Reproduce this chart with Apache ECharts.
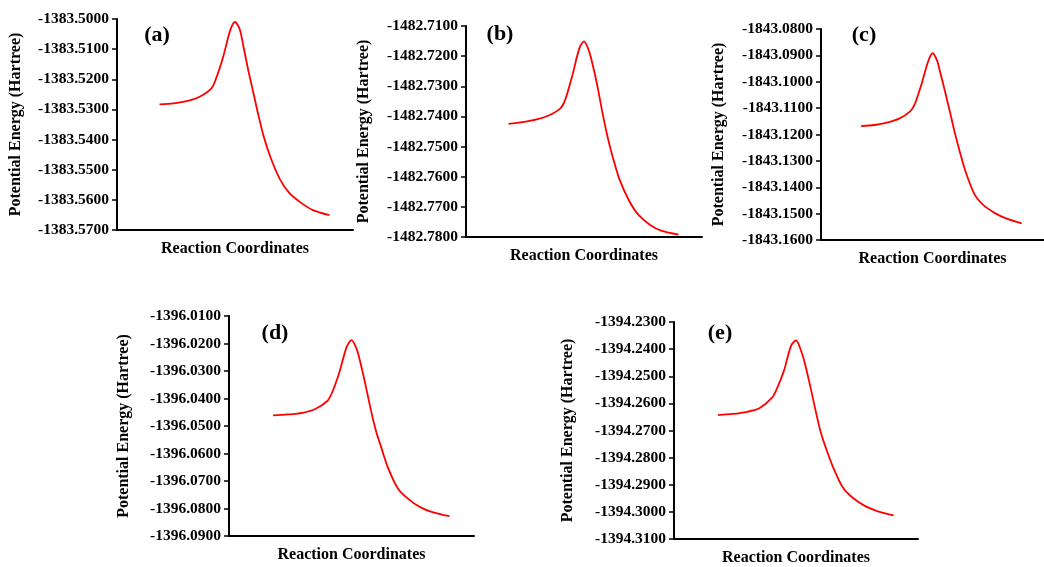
<!DOCTYPE html>
<html>
<head>
<meta charset="utf-8">
<script src="https://cdn.jsdelivr.net/npm/echarts@6/dist/echarts.min.js"></script>
<style>
html,body{margin:0;padding:0;background:#fff;}
#chart{width:1044px;height:567px;}
</style>
</head>
<body>
<div id="chart"></div>
<script>
// Reaction coordinate (arbitrary step units) shared by all panels
const reactionCoord = [0, 3, 6, 8.5, 11, 12, 13.5, 15, 16, 17, 17.8, 18.8, 20, 21, 22, 23.5, 25.5, 27.5, 30, 32.5, 36];

// Potential energy (Hartree) per panel
const energyA = [-1383.5283, -1383.5280, -1383.5272, -1383.5258, -1383.5230, -1383.5197, -1383.5125, -1383.5037, -1383.5010, -1383.5034, -1383.5092, -1383.5169, -1383.5252, -1383.5322, -1383.5385, -1383.5458, -1383.5531, -1383.5577, -1383.5610, -1383.5634, -1383.5651];
const energyB = [-1482.7425, -1482.7419, -1482.7410, -1482.7397, -1482.7373, -1482.7346, -1482.7266, -1482.7175, -1482.7151, -1482.7180, -1482.7226, -1482.7296, -1482.7395, -1482.7468, -1482.7530, -1482.7608, -1482.7678, -1482.7726, -1482.7760, -1482.7780, -1482.7792];
const energyC = [-1843.1168, -1843.1164, -1843.1154, -1843.1140, -1843.1112, -1843.1086, -1843.1011, -1843.0924, -1843.0892, -1843.0919, -1843.0969, -1843.1036, -1843.1121, -1843.1193, -1843.1258, -1843.1345, -1843.1429, -1843.1469, -1843.1498, -1843.1518, -1843.1537];
const energyD = [-1396.0461, -1396.0458, -1396.0452, -1396.0439, -1396.0410, -1396.0380, -1396.0306, -1396.0213, -1396.0188, -1396.0218, -1396.0268, -1396.0346, -1396.0445, -1396.0518, -1396.0574, -1396.0654, -1396.0728, -1396.0764, -1396.0795, -1396.0813, -1396.0828];
const energyE = [-1394.2643, -1394.2639, -1394.2631, -1394.2618, -1394.2581, -1394.2549, -1394.2481, -1394.2387, -1394.2368, -1394.2404, -1394.2451, -1394.2527, -1394.2625, -1394.2702, -1394.2758, -1394.2831, -1394.2907, -1394.2946, -1394.2977, -1394.2996, -1394.3013];

// Y-axis tick ranges [min, max, interval]
const yTicksA = [-1383.57, -1383.50, 0.01];
const yTicksB = [-1482.78, -1482.71, 0.01];
const yTicksC = [-1843.16, -1843.08, 0.01];
const yTicksD = [-1396.09, -1396.01, 0.01];
const yTicksE = [-1394.31, -1394.23, 0.01];

// Texts
const panelLabels = ['(a)', '(b)', '(c)', '(d)', '(e)'];
const xTitle = 'Reaction Coordinates';
const yTitle = 'Potential Energy (Hartree)';

const energies = [energyA, energyB, energyC, energyD, energyE];
const yTicks = [yTicksA, yTicksB, yTicksC, yTicksD, yTicksE];

// layout (pixels)
const grids = [
  {left: 117, top: 19, width: 236, height: 211},
  {left: 466, top: 26, width: 236, height: 211},
  {left: 821, top: 29, width: 234, height: 211},
  {left: 229, top: 316, width: 245, height: 220},
  {left: 674, top: 322, width: 244, height: 219}
];
const labelPos = [[157, 35], [500, 34], [864, 35], [275, 333], [720, 333]];
const yNameGaps = [93, 94, 94, 97, 98];

const FONT = 'Liberation Serif';

const chart = echarts.init(document.getElementById('chart'), null, {renderer: 'canvas'});

const option = {
  animation: false,
  backgroundColor: '#ffffff',
  grid: grids.map(g => Object.assign({containLabel: false}, g)),
  xAxis: grids.map((g, i) => ({
    type: 'value', gridIndex: i, min: -9, max: 41,
    name: xTitle, nameLocation: 'middle', nameGap: 11,
    nameTextStyle: {fontFamily: FONT, fontWeight: 'bold', fontSize: 16, color: '#000', verticalAlign: 'top'},
    axisLine: {show: true, onZero: false, lineStyle: {color: '#000', width: 2}},
    axisTick: {show: false}, axisLabel: {show: false}, splitLine: {show: false}
  })),
  yAxis: grids.map((g, i) => ({
    type: 'value', gridIndex: i,
    min: yTicks[i][0], max: yTicks[i][1], interval: yTicks[i][2],
    name: yTitle, nameLocation: 'middle', nameGap: yNameGaps[i], nameRotate: 90,
    nameTextStyle: {fontFamily: FONT, fontWeight: 'bold', fontSize: 16, color: '#000'},
    axisLine: {show: true, onZero: false, lineStyle: {color: '#000', width: 2}},
    axisTick: {show: true, inside: false, length: 5, lineStyle: {color: '#000', width: 1.5}},
    axisLabel: {show: true, margin: 8, fontFamily: FONT, fontWeight: 'bold', fontSize: 15.5, color: '#000',
      formatter: v => v.toFixed(4)},
    splitLine: {show: false}
  })),
  series: energies.map((e, i) => ({
    type: 'line', xAxisIndex: i, yAxisIndex: i,
    data: reactionCoord.map((x, k) => [x, e[k]]),
    showSymbol: false, symbol: 'none', smooth: 0.3,
    lineStyle: {color: '#ff0000', width: 1.8},
    itemStyle: {color: '#ff0000'}
  })),
  graphic: panelLabels.map((t, i) => ({
    type: 'text', x: labelPos[i][0], y: labelPos[i][1],
    style: {text: t, fontFamily: FONT, fontWeight: 'bold', fontSize: 22, fill: '#000',
      align: 'center', verticalAlign: 'middle'}
  }))
};
chart.setOption(option);
</script>
</body>
</html>
